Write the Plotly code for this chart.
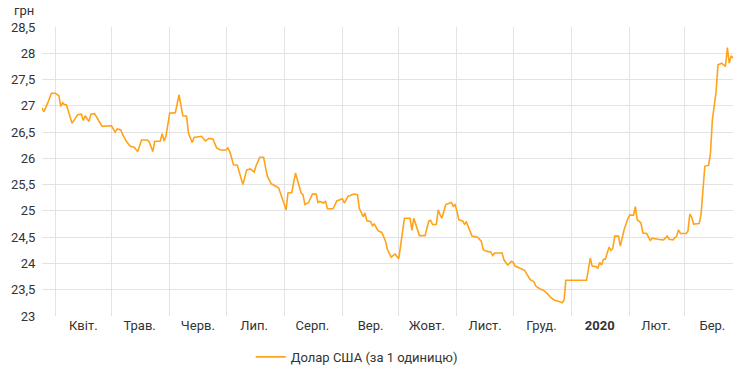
import plotly.graph_objects as go

dates = [
    "2019-03-25", "2019-03-26", "2019-03-28", "2019-03-30", "2019-04-01", "2019-04-03", "2019-04-04",
    "2019-04-05", "2019-04-06", "2019-04-07", "2019-04-10", "2019-04-13", "2019-04-15", "2019-04-16",
    "2019-04-17", "2019-04-19", "2019-04-20", "2019-04-22", "2019-04-24", "2019-04-26", "2019-05-01",
    "2019-05-03", "2019-05-04", "2019-05-06", "2019-05-07", "2019-05-09", "2019-05-11", "2019-05-13",
    "2019-05-15", "2019-05-16", "2019-05-17", "2019-05-20", "2019-05-21", "2019-05-23", "2019-05-24",
    "2019-05-27", "2019-05-28", "2019-05-29", "2019-05-30", "2019-06-01", "2019-06-04", "2019-06-06",
    "2019-06-08", "2019-06-10", "2019-06-11", "2019-06-13", "2019-06-14", "2019-06-18", "2019-06-20",
    "2019-06-22", "2019-06-24", "2019-06-26", "2019-06-28", "2019-07-01", "2019-07-02", "2019-07-03",
    "2019-07-05", "2019-07-07", "2019-07-10", "2019-07-12", "2019-07-14", "2019-07-16", "2019-07-17",
    "2019-07-19", "2019-07-21", "2019-07-23", "2019-07-25", "2019-07-27", "2019-07-29", "2019-08-02",
    "2019-08-03", "2019-08-05", "2019-08-07", "2019-08-10", "2019-08-11", "2019-08-12", "2019-08-14",
    "2019-08-16", "2019-08-18", "2019-08-19", "2019-08-20", "2019-08-22", "2019-08-23", "2019-08-24",
    "2019-08-27", "2019-08-29", "2019-09-01", "2019-09-02", "2019-09-04", "2019-09-05", "2019-09-07",
    "2019-09-09", "2019-09-10", "2019-09-12", "2019-09-13", "2019-09-14", "2019-09-16", "2019-09-17",
    "2019-09-18", "2019-09-20", "2019-09-22", "2019-09-24", "2019-09-25", "2019-09-27", "2019-09-29",
    "2019-10-01", "2019-10-03", "2019-10-04", "2019-10-07", "2019-10-08", "2019-10-09", "2019-10-10",
    "2019-10-12", "2019-10-15", "2019-10-17", "2019-10-18", "2019-10-19", "2019-10-21", "2019-10-22",
    "2019-10-23", "2019-10-24", "2019-10-26", "2019-10-27", "2019-10-29", "2019-10-30", "2019-10-31",
    "2019-11-01", "2019-11-02", "2019-11-04", "2019-11-05", "2019-11-06", "2019-11-07", "2019-11-09",
    "2019-11-12", "2019-11-14", "2019-11-15", "2019-11-17", "2019-11-19", "2019-11-20", "2019-11-21",
    "2019-11-25", "2019-11-26", "2019-11-28", "2019-11-30", "2019-12-01", "2019-12-02", "2019-12-04",
    "2019-12-07", "2019-12-10", "2019-12-12", "2019-12-13", "2019-12-15", "2019-12-17", "2019-12-19",
    "2019-12-21", "2019-12-23", "2019-12-25", "2019-12-27", "2019-12-28", "2019-12-29", "2020-01-09",
    "2020-01-11", "2020-01-12", "2020-01-14", "2020-01-15", "2020-01-16", "2020-01-17", "2020-01-18",
    "2020-01-19", "2020-01-21", "2020-01-22", "2020-01-23", "2020-01-24", "2020-01-26", "2020-01-27",
    "2020-01-29", "2020-01-31", "2020-02-01", "2020-02-03", "2020-02-04", "2020-02-05", "2020-02-07",
    "2020-02-08", "2020-02-10", "2020-02-12", "2020-02-13", "2020-02-16", "2020-02-19", "2020-02-21",
    "2020-02-22", "2020-02-24", "2020-02-26", "2020-02-27", "2020-02-28", "2020-03-02", "2020-03-03",
    "2020-03-04", "2020-03-05", "2020-03-06", "2020-03-09", "2020-03-10", "2020-03-11", "2020-03-12",
    "2020-03-14", "2020-03-15", "2020-03-16", "2020-03-17", "2020-03-18", "2020-03-19", "2020-03-21",
    "2020-03-23", "2020-03-24", "2020-03-25", "2020-03-26", "2020-03-27",
]

usd_rate = [
    26.96, 26.89, 27.05, 27.24, 27.24, 27.19, 26.99,
    27.06, 27.02, 27.02, 26.67, 26.83, 26.84, 26.72,
    26.81, 26.70, 26.84, 26.85, 26.73, 26.61, 26.62,
    26.50, 26.56, 26.54, 26.45, 26.32, 26.23, 26.21,
    26.13, 26.26, 26.35, 26.35, 26.32, 26.13, 26.32,
    26.33, 26.47, 26.33, 26.42, 26.86, 26.87, 27.21,
    26.81, 26.80, 26.48, 26.30, 26.40, 26.42, 26.33,
    26.38, 26.37, 26.20, 26.16, 26.16, 26.20, 26.13,
    25.88, 25.87, 25.50, 25.78, 25.80, 25.74, 25.86,
    26.02, 26.02, 25.66, 25.52, 25.48, 25.44, 25.02,
    25.34, 25.35, 25.72, 25.34, 25.31, 25.12, 25.16,
    25.32, 25.32, 25.16, 25.18, 25.15, 25.19, 25.04,
    25.04, 25.19, 25.23, 25.15, 25.28, 25.29, 25.32,
    25.31, 25.05, 24.89, 24.96, 24.81, 24.80, 24.72,
    24.75, 24.62, 24.59, 24.42, 24.26, 24.12, 24.18,
    24.09, 24.62, 24.86, 24.86, 24.63, 24.86, 24.74,
    24.53, 24.53, 24.81, 24.82, 24.74, 24.74, 25.02,
    24.93, 24.86, 25.12, 25.13, 25.16, 25.09, 25.12,
    24.99, 24.83, 24.81, 24.75, 24.79, 24.71, 24.52,
    24.50, 24.42, 24.26, 24.23, 24.22, 24.15, 24.20,
    24.20, 24.07, 23.97, 24.04, 24.02, 23.95, 23.92,
    23.87, 23.69, 23.65, 23.57, 23.52, 23.49, 23.43,
    23.35, 23.30, 23.28, 23.25, 23.30, 23.68, 23.68,
    24.10, 23.95, 23.94, 23.91, 24.02, 23.97, 24.08,
    24.08, 24.31, 24.25, 24.29, 24.52, 24.52, 24.33,
    24.64, 24.85, 24.92, 24.92, 25.08, 24.83, 24.77,
    24.58, 24.57, 24.44, 24.48, 24.46, 24.45, 24.52,
    24.46, 24.45, 24.52, 24.64, 24.57, 24.57, 24.61,
    24.94, 24.88, 24.75, 24.76, 24.94, 25.47, 25.85,
    25.87, 26.10, 26.73, 27.05, 27.27, 27.78, 27.81,
    27.75, 28.11, 27.81, 27.95, 27.91,
]

month_starts = [
    "2019-04-01", "2019-05-01", "2019-06-01", "2019-07-01", "2019-08-01", "2019-09-01",
    "2019-10-01", "2019-11-01", "2019-12-01", "2020-01-01", "2020-02-01", "2020-03-01",
]
label_dates = [
    "2019-04-16", "2019-05-16", "2019-06-16", "2019-07-16", "2019-08-16", "2019-09-16",
    "2019-10-16", "2019-11-16", "2019-12-16", "2020-01-16", "2020-02-15", "2020-03-16",
]
month_labels = [
    "Квіт.", "Трав.", "Черв.", "Лип.", "Серп.", "Вер.",
    "Жовт.", "Лист.", "Груд.", "<b>2020</b>", "Лют.", "Бер.",
]
y_ticks = [23, 23.5, 24, 24.5, 25, 25.5, 26, 26.5, 27, 27.5, 28, 28.5]
y_labels = ["23", "23,5", "24", "24,5", "25", "25,5", "26", "26,5", "27", "27,5", "28", "28,5"]

series_name = "Долар США (за 1 одиницю)"
unit_label = "грн"

GRID = "#e3e3e3"
TEXT = "#333333"

fig = go.Figure()
fig.add_trace(go.Scatter(
    x=dates, y=usd_rate, mode="lines", name=series_name,
    line=dict(color="#ffa31a", width=1.6),
))

fig.update_layout(
    width=740, height=373,
    margin=dict(l=42, r=7, t=27, b=57, autoexpand=False),
    paper_bgcolor="white", plot_bgcolor="white",
    font=dict(family="Roboto", size=13, color=TEXT),
    showlegend=True,
    legend=dict(orientation="h", x=0.302, xanchor="left",
                yref="container", y=0.043, yanchor="middle",
                font=dict(size=13, color=TEXT)),
    xaxis=dict(
        type="date", range=["2019-03-25", "2020-03-27"], automargin=False,
        tickmode="array", tickvals=label_dates, ticktext=month_labels,
        showgrid=False, zeroline=False, showline=False, ticks="",
        minor=dict(tickmode="array", tickvals=month_starts, showgrid=True,
                   gridcolor=GRID, gridwidth=1, ticks=""),
    ),
    yaxis=dict(
        range=[23, 28.5], tickmode="array", tickvals=y_ticks, ticktext=y_labels,
        automargin=False,
        showgrid=True, gridcolor=GRID, gridwidth=1, zeroline=False, showline=False,
        ticks="outside", ticklen=3, tickcolor="rgba(0,0,0,0)",
    ),
    annotations=[dict(
        text=unit_label, xref="paper", yref="paper", x=-0.0434, y=1.0, yshift=17,
        xanchor="left", yanchor="middle", showarrow=False, font=dict(size=13, color=TEXT),
    )],
)

fig.write_html(
    "out.html",
    config={"displayModeBar": False},
    post_script="document.body.style.margin='0';document.body.style.overflow='hidden';",
)
